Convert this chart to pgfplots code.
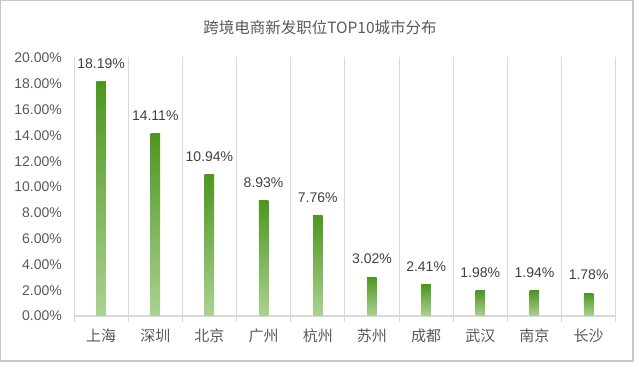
\documentclass[border=0pt]{standalone}
\usepackage{pgfplots}
\pgfplotsset{compat=1.18}
\usepackage{fontspec}
\setmainfont{Liberation Sans}
\newfontfamily\cjk{Noto Sans CJK SC}
\definecolor{bartop}{RGB}{78,150,32}
\definecolor{barbot}{RGB}{172,210,146}
\definecolor{gridgray}{RGB}{217,217,217}
\definecolor{framegray}{RGB}{200,200,200}
\definecolor{txtgray}{RGB}{89,89,89}
\definecolor{lblgray}{RGB}{64,64,64}
\begin{document}
\begin{tikzpicture}
\useasboundingbox (0,0) rectangle (635bp,367bp);
\draw[framegray, line width=1.2bp] (0.8bp,6bp) rectangle (633bp,366.3bp);
\node[txtgray, font=\cjk\fontsize{15.5bp}{18bp}\selectfont] at (320bp,339bp) {跨境电商新发职位TOP10城市分布};
\begin{axis}[
  at={(74bp,51bp)}, anchor=south west,
  scale only axis, width=541.7bp, height=258bp,
  xmin=-0.5, xmax=9.5, ymin=0, ymax=20,
  clip=false,
  axis line style={draw=none},
  xtick={0,...,9},
  xticklabels={上海,深圳,北京,广州,杭州,苏州,成都,武汉,南京,长沙},
  xticklabel style={font=\cjk\fontsize{15bp}{18bp}\selectfont, text=txtgray, anchor=north, inner sep=0pt, yshift=-13bp},
  ytick={0,2,...,20},
  yticklabel={\pgfmathprintnumber[fixed,fixed zerofill,precision=2]{\tick}\%},
  /pgf/number format/assume math mode=true,
  yticklabel style={font=\fontsize{14bp}{16bp}\selectfont, text=txtgray, anchor=east, inner sep=0pt, xshift=-12bp},
  major tick length=0pt,
  tick style={draw=none},
  cycle list={{mark=none}},
  every axis plot/.append style={ybar, bar width=9.5bp, bar shift=0pt, draw=none, mark=none, shading=axis, top color=bartop, bottom color=barbot, shading angle=0},
  nodes near coords={\pgfmathprintnumber[fixed,fixed zerofill,precision=2]{\pgfplotspointmeta}\%},
  nodes near coords style={font=\fontsize{14bp}{16bp}\selectfont, text=lblgray, anchor=south, inner sep=0pt, yshift=13bp},
]
\pgfplotsinvokeforeach{0,...,10}{
  \draw[gridgray, line width=1bp] (axis cs:#1-0.5,20.1) -- ([yshift=-6bp]axis cs:#1-0.5,0);
}
\draw[gridgray, line width=1.2bp] (axis cs:-0.5,0) -- (axis cs:9.5,0);
\addplot coordinates {(0,18.19)};
\addplot coordinates {(1,14.11)};
\addplot coordinates {(2,10.94)};
\addplot coordinates {(3,8.93)};
\addplot coordinates {(4,7.76)};
\addplot coordinates {(5,3.02)};
\addplot coordinates {(6,2.41)};
\addplot coordinates {(7,1.98)};
\addplot coordinates {(8,1.94)};
\addplot coordinates {(9,1.78)};
\end{axis}
\end{tikzpicture}
\end{document}
